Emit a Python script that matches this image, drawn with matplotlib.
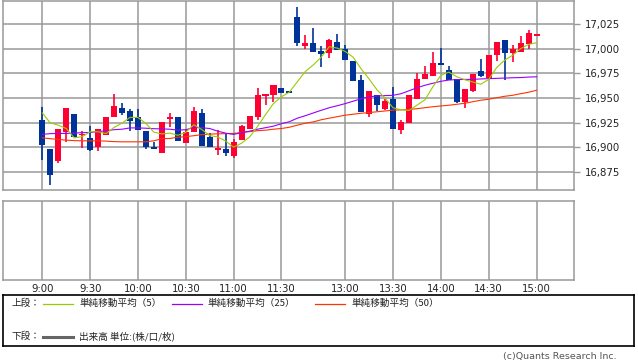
import matplotlib
matplotlib.use('Agg')
import matplotlib.pyplot as plt
from matplotlib.ticker import FuncFormatter

plt.rcParams['font.family'] = ['Noto Sans CJK JP', 'DejaVu Sans']

# x axis: one slot per 5-minute bar, 9:00 = 0
time_labels = ['9:00', '9:30', '10:00', '10:30', '11:00', '11:30',
               '13:00', '13:30', '14:00', '14:30', '15:00']
time_pos = [0, 6, 12, 18, 24, 30, 38, 44, 50, 56, 62]
price_ticks = [16875, 16900, 16925, 16950, 16975, 17000, 17025]

opens = [16927.4, 16898.0, 16885.9, 16915.6, 16933.5, 16912.5, 16908.9, 16899.8, 16912.5, 16930.8,
         16940.3, 16936.5, 16930.8, 16916.3, 16900.4, 16893.7, 16928.7, 16930.5, 16904.5, 16915.6,
         16934.5, 16910.5, 16897.4, 16898.0, 16891.0, 16907.2, 16918.3, 16930.5, 16951.7, 16953.0,
         16960.5, 16955.8, 17031.7, 17002.6, 17005.4, 16997.3, 16995.5, 17006.4, 16999.3, 16987.1,
         16968.6, 16934.2, 16952.7, 16938.3, 16949.4, 16917.3, 16924.7, 16949.0, 16969.2, 16972.3,
         16985.1, 16978.8, 16968.9, 16946.0, 16957.1, 16977.0, 16970.6, 16993.2, 17008.4, 16995.5,
         16996.6, 17004.4, 17013.2]
highs = [16940.9, 16898.0, 16918.2, 16939.9, 16933.5, 16916.0, 16921.4, 16918.0, 16930.8, 16953.7,
         16944.9, 16938.6, 16938.3, 16916.3, 16905.5, 16925.4, 16935.0, 16930.5, 16918.6, 16940.9,
         16938.3, 16914.3, 16917.3, 16913.0, 16907.9, 16922.7, 16931.5, 16960.1, 16953.7, 16962.9,
         16960.5, 16955.8, 17042.8, 17013.5, 17020.5, 17002.3, 17009.4, 17014.5, 17003.8, 16987.1,
         16973.0, 16956.8, 16952.7, 16948.7, 16961.5, 16927.4, 16952.7, 16975.0, 16982.4, 16996.3,
         17000.3, 16982.1, 16968.9, 16958.8, 16974.0, 16989.2, 16993.2, 17006.4, 17008.4, 17003.3,
         17012.4, 17018.5, 17014.5]
lows = [16886.9, 16861.7, 16884.0, 16905.5, 16910.5, 16899.4, 16896.0, 16896.4, 16912.5, 16930.8,
        16932.5, 16916.6, 16917.3, 16898.0, 16897.8, 16893.7, 16920.6, 16906.2, 16904.5, 16915.6,
        16901.4, 16899.8, 16892.0, 16891.0, 16889.3, 16907.2, 16918.3, 16928.1, 16942.6, 16946.0,
        16955.1, 16955.1, 17002.6, 16999.3, 16996.6, 16981.4, 16990.5, 16998.3, 16988.2, 16967.2,
        16935.5, 16930.8, 16936.5, 16937.5, 16918.3, 16913.3, 16924.7, 16949.0, 16969.2, 16972.3,
        16983.8, 16968.6, 16944.9, 16940.3, 16956.0, 16971.3, 16970.6, 16987.1, 16967.9, 16986.4,
        16996.6, 16999.6, 17013.2]
closes = [16902.1, 16871.8, 16918.2, 16939.9, 16910.5, 16913.5, 16897.0, 16918.0, 16930.8, 16941.6,
          16934.8, 16926.4, 16917.3, 16900.4, 16897.8, 16925.4, 16930.8, 16906.2, 16915.3, 16936.5,
          16901.4, 16899.8, 16899.4, 16894.3, 16905.5, 16921.4, 16931.5, 16952.7, 16953.7, 16962.9,
          16955.1, 16955.2, 17005.7, 17005.4, 16996.6, 16994.5, 17008.4, 16998.3, 16988.2, 16967.2,
          16935.5, 16956.8, 16942.6, 16947.0, 16918.3, 16925.7, 16952.7, 16969.6, 16974.0, 16985.1,
          16983.8, 16968.6, 16946.0, 16958.8, 16974.0, 16972.3, 16993.2, 17006.4, 16995.5, 16999.3,
          17005.4, 17015.5, 17014.5]

ma5 = [16934.8, 16924.7, 16922.4, 16919.0, 16909.5, 16910.7, 16915.7, 16915.7, 16913.9, 16920.1,
       16924.4, 16930.3, 16930.2, 16924.1, 16915.3, 16913.5, 16914.3, 16912.1, 16915.1, 16922.8,
       16918.0, 16911.8, 16910.5, 16906.3, 16900.1, 16904.1, 16910.4, 16921.1, 16933.0, 16944.4,
       16951.2, 16955.9, 16966.5, 16976.9, 16983.6, 16991.5, 17002.1, 17000.6, 16997.2, 16991.3,
       16979.5, 16969.2, 16958.1, 16949.8, 16940.0, 16938.1, 16937.3, 16942.7, 16948.1, 16961.4,
       16973.0, 16976.2, 16971.5, 16968.5, 16966.2, 16963.9, 16968.9, 16980.9, 16988.3, 16993.3,
       17000.0, 17004.4, 17006.0]
ma25 = [16913.0, 16913.8, 16914.0, 16914.0, 16914.3, 16914.8, 16915.0, 16915.8, 16916.8, 16917.8,
        16918.3, 16919.6, 16919.6, 16919.3, 16918.8, 16918.6, 16918.3, 16917.3, 16917.8, 16920.0,
        16919.8, 16919.0, 16916.3, 16914.3, 16913.0, 16914.8, 16916.3, 16918.3, 16919.8, 16921.4,
        16923.9, 16925.9, 16929.5, 16932.0, 16934.8, 16937.5, 16940.1, 16942.1, 16944.3, 16946.7,
        16949.2, 16951.2, 16952.0, 16952.4, 16952.7, 16954.3, 16957.3, 16960.3, 16962.9, 16964.9,
        16966.9, 16968.2, 16968.6, 16968.8, 16968.9, 16969.3, 16969.6, 16969.9, 16970.2, 16970.5,
        16970.7, 16971.2, 16971.5]
ma50 = [16909.5, 16908.7, 16907.9, 16907.2, 16906.7, 16906.5, 16906.5, 16906.5, 16906.2, 16905.7,
        16905.5, 16905.5, 16905.5, 16905.5, 16906.5, 16908.7, 16908.9, 16910.2, 16910.7, 16911.7,
        16912.8, 16913.3, 16913.6, 16913.8, 16914.0, 16915.0, 16915.8, 16916.8, 16917.3, 16918.3,
        16919.0, 16920.3, 16922.4, 16924.4, 16925.7, 16927.9, 16929.5, 16931.0, 16932.5, 16933.5,
        16934.5, 16935.2, 16936.0, 16936.8, 16937.6, 16937.9, 16938.3, 16939.1, 16940.1, 16941.1,
        16941.9, 16942.6, 16943.6, 16944.6, 16946.2, 16947.7, 16948.7, 16950.2, 16951.7, 16952.7,
        16954.3, 16955.8, 16957.8]

UP = '#ff0033'
DOWN = '#003399'
GRID = '#999999'
W, H = 638, 362

fig = plt.figure(figsize=(W / 100, H / 100), dpi=100)

def px_axes(left, top, right, bottom):
    return fig.add_axes([left / W, 1 - bottom / H, (right - left) / W, (bottom - top) / H])

x = list(range(len(closes)))
xlim = (-4.93, 66.7)

# upper panel: candles + moving averages
ax = px_axes(3, 0.5, 574, 190)
colors = [UP if c >= o else DOWN for o, c in zip(opens, closes)]
ax.vlines(x, lows, highs, colors=colors, linewidth=1.2, zorder=2)
bottoms = [min(o, c) for o, c in zip(opens, closes)]
heights = [max(abs(c - o), 1.4) for o, c in zip(opens, closes)]
ax.bar(x, heights, bottom=bottoms, width=0.76, color=colors, linewidth=0, zorder=3)
ax.plot(x, ma50, color='#ff3300', linewidth=0.8, zorder=4)
ax.plot(x, ma25, color='#9900ff', linewidth=0.8, zorder=4)
ax.plot(x, ma5, color='#99cc00', linewidth=0.8, zorder=5)

ax.set_xlim(*xlim)
ax.set_ylim(16856.6, 17048.9)
ax.set_xticks(time_pos)
ax.set_xticklabels([])
ax.set_yticks(price_ticks)
ax.yaxis.set_major_formatter(FuncFormatter(lambda v, p: f'{v:,.0f}'))
ax.yaxis.tick_right()
ax.tick_params(axis='x', length=0)
ax.tick_params(axis='y', direction='out', length=4, width=1, color=GRID,
               pad=4, labelsize=7.3, labelcolor='#222222')
for lab in ax.get_yticklabels():
    lab.set_family('DejaVu Sans')
ax.grid(True, color=GRID, linewidth=1.1, zorder=0)
ax.set_axisbelow(True)
for s in ax.spines.values():
    s.set_color(GRID)
    s.set_linewidth(1.1)

# lower panel: volume (empty)
ax2 = px_axes(3, 201.3, 574, 280.3)
ax2.set_xlim(*xlim)
ax2.set_ylim(0, 1)
ax2.set_xticks(time_pos)
ax2.set_xticklabels(time_labels, family='DejaVu Sans', fontsize=7.3, color='#222222')
ax2.set_yticks([])
ax2.tick_params(axis='x', length=0, pad=3)
ax2.grid(True, axis='x', color=GRID, linewidth=1.1)
for s in ax2.spines.values():
    s.set_color(GRID)
    s.set_linewidth(1.1)

# legend box, drawn in pixel coordinates
lg = px_axes(3.3, 295.3, 634, 346)
lg.set_xlim(3.3, 634)
lg.set_ylim(346, 295.3)
lg.set_xticks([])
lg.set_yticks([])
for s in lg.spines.values():
    s.set_color('black')
    s.set_linewidth(1.2)

fs = 6.9
lg.text(12, 303.5, '上段：', fontsize=fs, va='center', color='#222222')
lg.plot([43, 73], [303.5, 303.5], color='#99cc00', linewidth=0.9)
lg.text(79, 303.5, '単純移動平均（5）', fontsize=fs, va='center', color='#222222')
lg.plot([172, 202], [303.5, 303.5], color='#9900ff', linewidth=0.9)
lg.text(207, 303.5, '単純移動平均（25）', fontsize=fs, va='center', color='#222222')
lg.plot([315, 345], [303.5, 303.5], color='#ff3300', linewidth=0.9)
lg.text(351, 303.5, '単純移動平均（50）', fontsize=fs, va='center', color='#222222')
lg.text(12, 336.5, '下段：', fontsize=fs, va='center', color='#222222')
lg.plot([43, 73], [336.5, 336.5], color='#666666', linewidth=2.2)
lg.text(79, 336.5, '出来高 単位:(株/口/枚)', fontsize=fs, va='center', color='#222222')

fig.text(617 / W, 1 - 357 / H, '(c)Quants Research Inc.', ha='right', va='center',
         fontsize=6.8, color='#555555', family='DejaVu Sans')

fig.savefig('out.png', dpi=100)
